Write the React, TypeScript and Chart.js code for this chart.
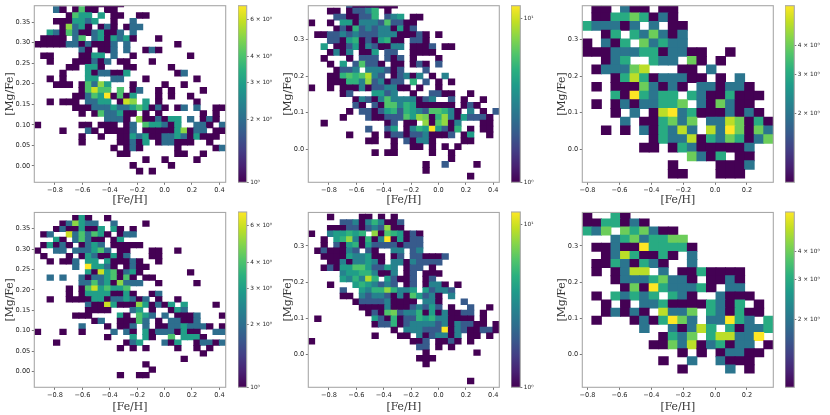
import React, { useEffect, useRef } from "react";
import { Chart, registerables } from "chart.js";
Chart.register(...registerables);

// every row is a flat list of column, count, column, count ... from the top row downward
const panel1Rows: number[][] = [
  [8,1,9,1,10,1,11,1,12,1,13,1],
  [3,2,4,1,6,1,7,4,8,1,9,1,11,1,12,1],
  [5,1,6,4,7,3,8,3,10,3,12,1,13,1,16,1,17,1],
  [3,1,4,1,5,1,6,3,7,3,8,2,9,3,12,1,15,2],
  [4,1,5,5,6,2,7,3,8,1,10,1,11,2,12,1,14,1,15,2,16,2],
  [2,3,3,2,4,1,5,4,6,2,7,1,8,1,9,2,10,3,11,1,12,1,13,2,15,2],
  [1,1,2,1,3,1,4,1,6,2,7,4,9,2,10,3,11,1,12,3,13,2,14,3,15,1,19,1],
  [0,1,1,1,2,1,3,1,4,1,5,2,6,2,7,1,8,2,9,1,10,1,11,1,12,2,14,2,22,1],
  [7,2,8,1,10,1,11,1,12,2,14,2,17,1,18,2,19,1],
  [1,1,2,1,7,1,8,1,9,3,10,3,12,2,15,1,24,1],
  [2,1,6,1,7,1,8,1,9,2,10,1,11,2,13,1,14,1,18,1],
  [5,1,6,1,8,3,9,3,10,1,14,1,15,1,21,1],
  [4,1,8,3,9,1,10,2,11,2,12,1,13,1,14,3,22,1,23,2],
  [2,1,4,1,8,3,9,3,12,2,13,2,17,1,25,1],
  [3,1,4,1,5,1,7,1,8,4,9,2,10,5,11,3,15,1,20,1,23,1],
  [7,1,8,4,9,6,10,4,11,4,13,4,15,1,16,2,19,1,21,1,26,1],
  [6,1,7,1,8,2,9,4,10,3,11,7,12,1,13,4,14,1,15,3,19,1,21,1,24,1],
  [2,1,4,1,5,1,6,1,8,2,9,2,10,3,11,3,13,1,14,6,15,5,17,3,19,1,25,1],
  [6,1,7,1,8,1,9,2,10,2,11,2,12,3,13,2,14,2,15,3,16,4,17,3,18,1,19,2,20,1,22,1,23,2,25,2,28,1,29,1],
  [7,1,9,1,10,4,11,2,12,2,13,3,14,1,15,1,17,1,19,1,26,1,28,1],
  [11,2,12,2,13,2,14,1,16,5,17,1,18,1,19,2,20,1,21,3,22,3,24,2,26,1,27,2,28,1],
  [0,1,7,1,8,1,10,1,11,1,12,1,14,1,15,2,17,4,18,3,19,3,20,2,21,1,22,3,25,2,26,2,27,1,29,2],
  [4,1,8,2,9,1,11,1,12,1,13,1,14,1,15,2,17,1,18,1,19,1,20,1,21,1,22,3,23,5,24,1,25,2,26,2,28,1,29,1],
  [7,1,10,1,13,1,14,1,15,3,16,2,17,3,18,1,19,1,20,2,21,2,22,3,23,2,24,1,25,3,26,1,27,1,28,1],
  [7,1,13,1,14,1,15,2,16,1,17,3,19,1,20,2,21,2,22,1,23,1,24,1,27,1],
  [12,1,14,1,15,2,16,1,22,1,28,1,29,2],
  [13,1,14,1,22,1,23,1,26,1],
  [17,1,20,1,25,1],
  [15,1,21,1],
  [16,1,18,1],
];

const panel2Rows: number[][] = [
  [6,2,7,1,8,1,9,1,10,1,11,1,12,1,13,1],
  [3,1,4,1,6,1,7,2,8,2,9,3,10,5,12,1],
  [4,2,5,2,6,1,7,1,8,2,9,2,10,5,12,2,13,3,14,4,16,1,17,1],
  [0,1,3,1,5,4,6,4,7,1,8,3,9,3,10,3,11,2,12,6,13,2,14,2,15,1,16,1],
  [4,1,5,2,6,1,7,5,8,2,9,3,10,2,11,3,12,3,13,1,14,4,15,1,16,2],
  [1,1,2,1,3,2,4,2,5,3,6,2,7,3,8,2,9,2,10,2,11,3,12,3,13,3,14,1,15,1,16,1,17,2,18,1,20,1],
  [3,2,4,2,5,1,6,4,7,5,8,1,9,2,10,1,11,4,12,5,13,1,14,1,16,2,17,2,18,1],
  [2,4,4,1,5,1,6,2,7,4,8,1,9,3,10,2,11,1,12,1,13,3,14,3,16,1,17,1,18,1,19,2,21,1,22,1],
  [3,1,4,3,5,1,6,3,8,1,9,1,10,4,12,2,13,2,16,1,17,1,18,1,19,1],
  [2,1,6,1,8,2,9,2,10,2,12,2,13,1,14,2,16,1,20,1],
  [3,1,5,4,7,2,8,6,9,2,10,2,11,1,13,1,14,1,16,1,17,2,18,1,20,2],
  [4,1,5,2,6,2,7,3,9,3,10,3,11,3,12,2,13,1,14,2,18,2],
  [3,1,4,1,5,5,6,6,7,5,8,6,9,9,10,3,11,2,13,1,14,2,15,3,16,1,17,3,19,1,21,3],
  [3,1,4,1,5,1,6,5,7,5,8,3,9,8,10,2,11,3,12,1,13,2,14,2,16,5,18,2,20,1,22,1],
  [0,1,3,1,5,1,6,1,7,1,8,3,9,1,10,2,11,2,12,3,13,3,14,1,15,1,17,1,20,1],
  [5,1,6,2,10,4,11,4,12,2,13,3,16,1,19,2,20,2,21,1,22,1,25,1],
  [7,1,8,3,9,2,10,1,11,3,12,6,13,3,14,3,15,3,16,3,17,1,18,2,19,3,22,2,24,1,27,1],
  [7,2,8,1,10,2,11,1,12,6,13,6,14,3,15,5,16,4,17,1,18,1,19,1,20,1,21,1,22,1,24,1,25,2,26,1],
  [6,1,8,2,9,2,10,1,11,2,12,4,13,5,14,2,15,5,16,4,17,3,18,2,19,6,20,6,21,5,22,3,23,1,25,3,27,1,29,2],
  [5,1,9,2,10,1,11,1,12,2,13,2,14,2,15,6,16,4,17,8,18,7,19,1,20,5,21,8,22,3,23,1,24,4,25,2,26,2,27,2,28,1],
  [2,1,12,1,13,2,15,1,16,1,18,8,19,1,20,6,21,8,22,1,23,3,27,1,28,1],
  [9,2,12,2,13,4,15,1,16,3,17,5,18,4,19,12,20,4,21,2,22,1,23,5,25,1,27,1,28,1],
  [6,1,10,1,12,1,13,2,14,2,15,1,16,2,17,2,18,3,19,1,20,1,21,1,22,2,24,1,25,4,28,1],
  [9,1,10,1,13,1,15,2,16,1,17,3,18,3,19,1,24,1,25,1],
  [13,1,16,1,17,1,19,1,21,1,23,1],
  [10,1,12,1,13,1,19,1,22,1],
  [22,1],
  [18,1,21,2,26,1],
  [18,1],
  [25,1],
];

const panel3Rows: number[][] = [
  [1,1,2,1,4,2,5,1,6,1,8,1,9,1],
  [1,1,2,1,3,3,4,3,5,4,6,3,7,1,8,2,9,1],
  [0,3,1,2,2,2,3,2,4,1,5,2,7,2,9,1,10,1],
  [2,1,3,3,5,3,6,2,7,4,8,2,9,1,10,2],
  [0,1,2,2,3,1,4,3,6,4,7,2,8,3,9,2,10,2],
  [0,1,1,1,2,1,3,2,4,2,5,2,6,3,7,3,8,1,9,2,10,2,11,1,12,1,15,1],
  [2,1,3,2,4,3,7,3,8,2,9,2,11,4,12,1,14,1],
  [1,1,2,2,3,2,4,2,5,4,6,5,10,1,11,1,13,2],
  [3,1,4,3,5,5,6,3,7,1,8,2,9,2,10,2,11,1,12,1,14,1,16,2],
  [1,1,3,1,4,1,5,1,6,4,7,2,8,1,9,2,10,1,12,2,13,2,14,1,15,2,16,2,17,1],
  [3,3,4,1,5,6,6,3,7,2,8,3,9,3,11,3,12,2,13,1,14,1,15,3,16,1,17,1,18,1],
  [1,1,3,1,4,2,5,1,6,2,7,2,8,3,9,3,10,4,12,2,13,1,14,4,15,2,16,1,17,1],
  [3,1,5,2,7,1,8,5,9,6,10,2,11,3,12,1,13,1,14,1,15,2,16,1,17,2,18,1],
  [4,2,6,1,7,1,8,3,9,4,10,2,11,4,13,2,14,2,15,5,16,4,17,1,18,3,19,1],
  [2,1,4,1,6,2,7,1,8,3,9,2,10,5,11,2,13,5,14,2,15,6,16,4,17,1,18,4,19,2],
  [7,1,8,3,9,2,10,2,11,5,12,1,13,3,14,2,15,4,16,3,17,1,18,2,19,4],
  [6,1,7,1,9,1,10,3,11,2,12,1,13,1,14,1,15,1,16,1,17,2],
  [11,4,12,2,13,1,14,3,16,1,17,1],
  [9,1,14,1,15,1,16,1,17,2],
  [9,1,10,1,14,1,15,1,16,1],
];

const panel4Rows: number[][] = [
  [6,1,7,3,8,1,11,1],
  [4,1,5,2,6,5,7,3,8,2,9,2,12,2,17,1],
  [3,1,4,2,5,1,6,1,7,3,8,1,9,1,10,3,12,3,13,1,15,1],
  [1,1,2,2,5,6,6,2,7,4,8,2,9,4,10,3,11,1,13,1,14,2,15,2],
  [3,3,4,1,6,2,7,4,8,2,9,1,10,1,12,1,13,3],
  [1,1,2,3,3,1,4,2,5,1,7,1,8,2,9,3,10,2,12,1,13,1,14,1,15,1,16,1],
  [0,1,3,2,4,2,6,2,7,2,8,2,9,3,10,4,11,2,13,1,14,1,18,1,19,1,22,1],
  [1,1,5,1,7,1,8,3,9,2,10,1,11,1,12,3,13,1,14,2,18,1,19,1],
  [2,1,4,1,5,1,6,2,8,3,9,3,11,3,12,1,13,1,14,1,15,2,16,1,19,1],
  [6,2,8,7,9,3,10,3,11,2,12,1,14,1,15,2,16,1,17,1],
  [8,3,9,1,10,6,11,3,12,4,13,1,14,2,15,3,16,1,24,1],
  [2,2,4,2,7,2,8,1,9,2,10,2,11,3,12,4,13,1,14,4,15,1,17,1,18,1],
  [7,2,8,2,9,4,10,2,11,3,12,1,13,5,14,2,15,2,16,2,19,1,25,1],
  [5,1,7,1,8,4,9,6,10,3,11,4,12,3,13,3,14,4],
  [5,1,7,1,8,3,9,3,10,3,11,3,12,1,13,1,14,3,15,1,18,1,19,2],
  [2,1,5,1,6,1,7,1,8,1,9,3,10,3,11,1,12,2,13,2,14,3,15,2,16,1,17,2,19,1,22,1],
  [8,2,9,1,10,1,11,6,12,3,13,1,14,1,15,1,16,5,17,3,18,1,19,2,20,1,21,3,23,3,28,1],
  [8,1,9,1,10,1,11,1,15,2,16,3,18,1,21,1,22,3,23,2],
  [6,1,7,1,8,1,13,3,14,1,16,4,17,3,18,2,20,2,22,1,23,1,24,1,25,2,29,1],
  [9,1,10,2,13,1,14,1,15,1,16,4,17,2,19,1,21,2,22,2,23,1,24,1,25,2],
  [7,2,11,1,13,1,14,1,15,2,17,2,19,1,20,1,21,2,22,2,23,3,24,2,25,2,26,2,27,1,29,1],
  [0,1,4,1,7,1,12,2,14,2,15,1,17,3,18,1,19,2,20,2,21,2,22,1,23,3,24,1,25,1,28,2,29,2],
  [11,1,15,3,17,3,18,1,21,4,23,3,24,3,25,3,26,1],
  [3,1,14,1,15,2,16,3,20,2,21,1,22,3,25,1,26,2,27,2,28,1,29,2],
  [13,1,15,1,17,1,22,1,25,1,27,1],
  [26,1],
  [23,1],
  [17,1],
  [18,1],
  [13,1,16,1,17,1],
];

const panel5Rows: number[][] = [
  [3,1,8,1,9,1,11,1,13,1],
  [5,2,6,2,7,3,8,1,9,3,10,5,11,3,12,1,13,1,14,2],
  [3,1,4,1,5,1,6,2,7,2,8,1,9,2,10,3,11,2,12,8,13,1,14,1],
  [0,1,3,3,4,4,5,4,6,5,7,4,8,5,10,8,11,1,12,6,13,5,14,4,15,1,16,2,17,1],
  [2,1,4,4,5,5,6,8,7,3,8,1,9,5,10,1,11,3,12,12,13,1,14,4,15,1,16,2,17,2],
  [2,1,4,2,5,1,6,4,7,5,8,1,9,4,10,2,11,2,12,2,13,2,14,1,15,2,16,2,17,2],
  [1,1,2,2,3,1,4,1,5,1,6,3,7,2,9,2,10,1,13,3,14,3,16,2,17,3],
  [2,1,3,1,4,1,5,1,6,4,7,3,8,3,9,4,10,1,11,1,13,1,14,2,16,2,17,2,18,1,19,1,20,1,21,2],
  [3,1,4,1,5,3,6,1,7,3,8,3,9,4,10,3,11,1,13,3,14,3,15,1,16,3,17,2,18,2,19,2,20,2],
  [2,1,3,2,4,1,5,4,6,4,7,6,8,6,9,4,10,2,11,2,12,4,13,3,15,1,16,2,17,2,19,1],
  [5,3,6,4,7,4,8,5,9,5,10,3,11,1,12,1,13,3,15,1,16,2,18,1,19,1,20,1],
  [5,4,6,3,7,5,8,3,9,9,10,5,12,4,13,2,14,1,15,1,16,2,18,1,19,2],
  [3,1,7,4,8,5,9,4,10,3,11,2,12,3,13,2,15,1,16,2,18,1,19,3,20,3,21,1,23,1],
  [5,2,8,4,9,3,10,5,11,5,12,8,13,5,14,3,15,3,16,4,18,4,19,2,20,3,21,3,22,2],
  [5,1,6,1,8,3,9,2,10,3,11,3,12,2,13,1,14,3,15,1,16,6,17,4,18,2,19,3,20,1,22,3],
  [7,1,8,2,9,2,10,2,11,2,12,3,13,1,14,1,15,1,16,1,18,3,19,3,20,1,24,2],
  [8,1,9,1,10,1,11,1,12,3,13,1,14,1,15,1,16,2,17,3,18,2,19,4,20,2,22,1,25,2,28,1],
  [9,1,10,2,11,1,12,6,13,7,14,2,15,3,16,3,17,5,18,1,19,4,20,1,21,3,22,1,23,1,24,2,25,2,27,1],
  [1,1,10,4,11,2,12,1,13,5,14,1,15,2,16,2,17,5,18,4,19,5,20,3,21,3,22,1,23,1,24,1,25,1,27,1],
  [10,1,11,2,12,2,13,5,14,1,15,2,16,3,17,3,18,3,19,3,20,2,21,3,22,1,23,3,24,2,25,2,26,1,27,1,29,1],
  [13,1,15,3,16,3,17,3,18,2,19,2,20,2,21,12,22,1,23,3,24,2,25,1,26,1,27,2,28,2,29,1],
  [10,1,14,1,15,1,17,3,18,1,19,2,20,3,21,3,22,1,23,3,25,1,26,1,28,1],
  [0,1,16,1,17,1,18,2,20,1,21,1,22,2,23,1,25,1],
  [17,2,18,2,20,1,22,1],
  [18,1,26,1],
  [17,1,18,1,19,1],
  [18,1],
  [],
  [],
  [25,1],
];

const panel6Rows: number[][] = [
  [0,1,3,3,4,1],
  [0,1,1,1,2,3,3,3,4,1,5,2,6,1],
  [0,3,1,2,2,4,4,4,5,3,6,4,7,2,8,1,9,1],
  [3,2,4,3,5,4,6,2,7,3,8,3,9,4,10,4],
  [1,1,2,1,3,2,4,1,5,1,6,6,7,3,8,3,9,3,10,3,11,1],
  [2,1,3,2,4,5,5,3,6,1,7,1,8,3,9,1,11,2],
  [1,1,2,1,3,3,4,2,5,1,6,3,7,2,8,1,11,2],
  [1,1,3,1,4,2,5,5,6,5,8,2,10,1,11,1,12,3,13,1,14,1,15,1,16,1],
  [3,1,4,2,5,2,6,2,7,3,8,4,9,2,10,2,11,1,13,1,14,1,15,2,16,1],
  [4,1,5,4,6,1,7,6,8,3,9,2,10,2,11,2,12,3,13,1,15,2,16,2],
  [1,1,3,3,4,2,5,3,6,2,7,3,9,3,10,2,11,1,14,2,15,1,16,1,17,1],
  [2,1,4,1,6,2,7,2,8,3,9,1,10,1,11,1,12,1,13,3,14,2,15,1,16,3,18,1],
  [2,1,3,2,4,1,5,2,6,1,8,5,9,2,10,2,11,4,13,3,14,2,15,1,16,3,17,1,18,1],
  [1,1,5,1,6,2,7,1,8,3,9,6,10,4,11,2,13,2,14,2,15,6,16,3,17,2,19,3],
  [6,2,9,2,10,1,11,2,12,5,13,3,15,3,16,1,17,2,18,2,19,3],
  [8,1,9,3,10,2,11,4,13,3,14,5,15,5,16,2,17,2,18,6],
  [7,1,8,1,9,4,10,2,11,5,12,1,13,2,14,3,15,1,16,2,17,2,19,1],
  [10,1,12,1,14,1,15,2,16,2,17,1,18,1],
  [8,1,11,2,14,2,15,1,16,1,17,1],
  [10,1,15,2,17,1],
];

const xTicksWide = [-0.8, -0.6, -0.4, -0.2, 0, 0.2, 0.4];
const xTicksNarrow = [-0.8, -0.6, -0.4, -0.2, 0, 0.2];
const yTicksFine = [0, 0.05, 0.1, 0.15, 0.2, 0.25, 0.3, 0.35];
const yTicksCoarse = [0, 0.1, 0.2, 0.3];
const barTicksA = [1, 2, 3, 4, 6];
const barTicksB = [1, 10];
const barTicksC = [2, 3, 4];

const viridis = ["#440154","#482173","#433e85","#38598c","#2d708e","#25858e","#1e9b8a","#2bb07f","#51c56a","#85d54a","#c2df23","#fde725"];

function hex(c: string) {
  return [1, 3, 5].map((i) => parseInt(c.slice(i, i + 2), 16));
}
function colourAt(t: number) {
  const p = Math.min(Math.max(t, 0), 1) * (viridis.length - 1);
  const i = Math.min(Math.floor(p), viridis.length - 2);
  const a = hex(viridis[i]);
  const b = hex(viridis[i + 1]);
  const f = p - i;
  return `rgb(${a.map((v, k) => Math.round(v + (b[k] - v) * f)).join(",")})`;
}

const frame = {
  id: "frame",
  afterDraw(chart: any) {
    const { left, top, right, bottom } = chart.chartArea;
    const c = chart.ctx;
    c.save();
    c.strokeStyle = "#a8a8a8";
    c.lineWidth = 1.1;
    c.strokeRect(left, top, right - left, bottom - top);
    c.restore();
  },
};

type Panel = {
  rows: number[][];
  cols: number;
  xMin: number;
  xMax: number;
  yMin: number;
  yMax: number;
  yStart: number;
  yStep: number;
  vMax: number;
  xTicks: number[];
  yTicks: number[];
  yDigits: number;
  barTicks: number[];
  left: number;
  right: number;
  top: number;
  bottom: number;
  barLeft: number;
  barRight: number;
  canvasLeft: number;
  canvasTop: number;
};

const panels: Panel[] = [
  { rows: panel1Rows, cols: 30, xMin: -0.951, xMax: 0.446, yMin: -0.0397, yMax: 0.3897, yStart: 0.4013, yStep: 0.01402, vMax: 7, xTicks: xTicksWide, yTicks: yTicksFine, yDigits: 2, barTicks: barTicksA, left: 34.3, right: 225.7, top: 5.7, bottom: 182.3, barLeft: 238, barRight: 246.7, canvasLeft: 0, canvasTop: 0 },
  { rows: panel2Rows, cols: 30, xMin: -0.951, xMax: 0.444, yMin: -0.09, yMax: 0.392, yStart: 0.4015, yStep: 0.01609, vMax: 12, xTicks: xTicksWide, yTicks: yTicksCoarse, yDigits: 1, barTicks: barTicksB, left: 308.3, right: 499.3, top: 5.7, bottom: 182.3, barLeft: 511, barRight: 520.3, canvasLeft: 278, canvasTop: 0 },
  { rows: panel3Rows, cols: 20, xMin: -0.833, xMax: 0.365, yMin: -0.09, yMax: 0.392, yStart: 0.3965, yStep: 0.02373, vMax: 6, xTicks: xTicksNarrow, yTicks: yTicksCoarse, yDigits: 1, barTicks: barTicksC, left: 582.3, right: 773.3, top: 5.7, bottom: 182.3, barLeft: 785, barRight: 794.3, canvasLeft: 552, canvasTop: 0 },
  { rows: panel4Rows, cols: 30, xMin: -0.951, xMax: 0.446, yMin: -0.039, yMax: 0.3898, yStart: 0.3826, yStep: 0.01327, vMax: 7, xTicks: xTicksWide, yTicks: yTicksFine, yDigits: 2, barTicks: barTicksA, left: 34.3, right: 225.7, top: 211.3, bottom: 387.3, barLeft: 238, barRight: 246.7, canvasLeft: 0, canvasTop: 207 },
  { rows: panel5Rows, cols: 30, xMin: -0.951, xMax: 0.444, yMin: -0.09, yMax: 0.392, yStart: 0.3878, yStep: 0.01559, vMax: 12, xTicks: xTicksWide, yTicks: yTicksCoarse, yDigits: 1, barTicks: barTicksB, left: 308.3, right: 499.3, top: 211.3, bottom: 387.3, barLeft: 511, barRight: 520.3, canvasLeft: 278, canvasTop: 207 },
  { rows: panel6Rows, cols: 20, xMin: -0.833, xMax: 0.365, yMin: -0.09, yMax: 0.392, yStart: 0.3969, yStep: 0.02236, vMax: 6, xTicks: xTicksNarrow, yTicks: yTicksCoarse, yDigits: 1, barTicks: barTicksC, left: 582.3, right: 773.3, top: 211.3, bottom: 387.3, barLeft: 785, barRight: 794.3, canvasLeft: 552, canvasTop: 207 },
];

const CANVAS_W = 278;
const CANVAS_H = 208;
const BAR_CANVAS_W = 36;
const tickFont = { family: "'DejaVu Sans'", size: 6.6 };
const titleFont = { family: "'DejaVu Serif'", size: 10.8 };
const INK = "#262626";

function fmt(v: number, digits: number) {
  return v.toFixed(digits).replace("-", "\u2212");
}

function makeChart(cv: HTMLCanvasElement, p: Panel) {
  const xStep = (p.xMax - p.xMin) / p.cols;
  const data: any[] = [];
  const colours: string[] = [];
  p.rows.forEach((row, r) => {
    const top = p.yStart - r * p.yStep;
    for (let i = 0; i < row.length; i += 2) {
      const v = row[i + 1];
      data.push({ x: p.xMin + (row[i] + 0.5) * xStep, y: [top - p.yStep * 1.03, top] });
      colours.push(colourAt(Math.log(v) / Math.log(p.vMax)));
    }
  });
  const plotW = p.right - p.left;
  const leftRoom = p.left - p.canvasLeft;
  const topRoom = p.top - p.canvasTop;
  const bottomRoom = p.canvasTop + CANVAS_H - p.bottom;
  return new Chart(cv, {
    type: "bar",
    data: {
      datasets: [
        {
          data,
          backgroundColor: colours,
          barThickness: plotW / p.cols + 0.25,
          grouped: false,
          borderWidth: 0,
        } as any,
      ],
    },
    options: {
      animation: false,
      responsive: false,
      layout: { padding: { top: topRoom, right: CANVAS_W - (p.right - p.canvasLeft), left: 0, bottom: 0 } },
      plugins: { legend: { display: false }, tooltip: { enabled: false } },
      scales: {
        x: {
          type: "linear",
          min: p.xMin,
          max: p.xMax,
          offset: false,
          afterFit(s: any) { s.height = bottomRoom; },
          afterBuildTicks(s: any) { s.ticks = p.xTicks.map((value) => ({ value })); },
          grid: { drawOnChartArea: false, tickLength: 2.5, tickColor: "#777", offset: false },
          border: { display: false },
          ticks: { font: tickFont, color: INK, maxRotation: 0, autoSkip: false, padding: 1.5, callback: (v: any) => fmt(Number(v), 1) },
          title: { display: true, text: "[Fe/H]", font: titleFont, color: "#333", padding: { top: 0, bottom: 1 } },
        },
        y: {
          type: "linear",
          min: p.yMin,
          max: p.yMax,
          afterFit(s: any) { s.width = leftRoom; },
          afterBuildTicks(s: any) { s.ticks = p.yTicks.map((value) => ({ value })); },
          grid: { drawOnChartArea: false, tickLength: 2.5, tickColor: "#777" },
          border: { display: false },
          ticks: { font: tickFont, color: INK, autoSkip: false, padding: 1.5, callback: (v: any) => fmt(Number(v), p.yDigits) },
          title: { display: true, text: "[Mg/Fe]", font: titleFont, color: "#333", padding: { top: 3.5, bottom: 3.5 } },
        },
      },
    },
    plugins: [frame],
  } as any);
}

function makeBar(cv: HTMLCanvasElement, p: Panel) {
  const barW = p.barRight - p.barLeft;
  return new Chart(cv, {
    type: "bar",
    data: {
      labels: ["bar"],
      datasets: [
        {
          data: [[1, p.vMax]],
          barPercentage: 1,
          categoryPercentage: 1,
          borderWidth: 0,
          backgroundColor(ctx: any) {
            const area = ctx.chart.chartArea;
            if (!area) return viridis[0];
            const g = ctx.chart.ctx.createLinearGradient(0, area.bottom, 0, area.top);
            viridis.forEach((c, i) => g.addColorStop(i / (viridis.length - 1), c));
            return g;
          },
        } as any,
      ],
    },
    options: {
      animation: false,
      responsive: false,
      layout: { padding: { top: p.top - p.canvasTop, bottom: p.canvasTop + CANVAS_H - p.bottom, left: 0, right: 0 } },
      plugins: { legend: { display: false }, tooltip: { enabled: false } },
      scales: {
        x: { display: false },
        y: {
          type: "logarithmic",
          position: "right",
          min: 1,
          max: p.vMax,
          afterFit(s: any) { s.width = BAR_CANVAS_W - barW; },
          afterBuildTicks(s: any) { s.ticks = p.barTicks.map((value) => ({ value })); },
          grid: { drawOnChartArea: false, tickLength: 2, tickColor: "#777" },
          border: { display: false },
          ticks: {
            font: { family: "'DejaVu Sans'", size: 5.8 },
            color: INK,
            autoSkip: false,
            padding: 1.5,
            callback: (v: any) => {
              const n = Number(v);
              if (n === 1) return "10\u2070";
              if (n === 10) return "10\u00b9";
              return `${n} \u00d7 10\u2070`;
            },
          },
        },
      },
    },
    plugins: [frame],
  } as any);
}

export default function App() {
  const mapRefs = useRef<(HTMLCanvasElement | null)[]>([]);
  const barRefs = useRef<(HTMLCanvasElement | null)[]>([]);
  useEffect(() => {
    const charts: Chart[] = [];
    panels.forEach((p, i) => {
      charts.push(makeChart(mapRefs.current[i]!, p));
      charts.push(makeBar(barRefs.current[i]!, p));
    });
    return () => charts.forEach((c) => c.destroy());
  }, []);
  const soft = "blur(0.35px)";
  return (
    <div style={{ position: "fixed", left: 0, top: 0, width: 830, height: 415, background: "#fff", overflow: "hidden" }}>
      {panels.map((p, i) => (
        <React.Fragment key={i}>
          <canvas
            ref={(el) => { mapRefs.current[i] = el; }}
            width={CANVAS_W}
            height={CANVAS_H}
            style={{ position: "absolute", left: p.canvasLeft, top: p.canvasTop, width: CANVAS_W, height: CANVAS_H, filter: soft }}
          />
          <canvas
            ref={(el) => { barRefs.current[i] = el; }}
            width={BAR_CANVAS_W}
            height={CANVAS_H}
            style={{ position: "absolute", left: p.barLeft, top: p.canvasTop, width: BAR_CANVAS_W, height: CANVAS_H, filter: soft }}
          />
        </React.Fragment>
      ))}
    </div>
  );
}
